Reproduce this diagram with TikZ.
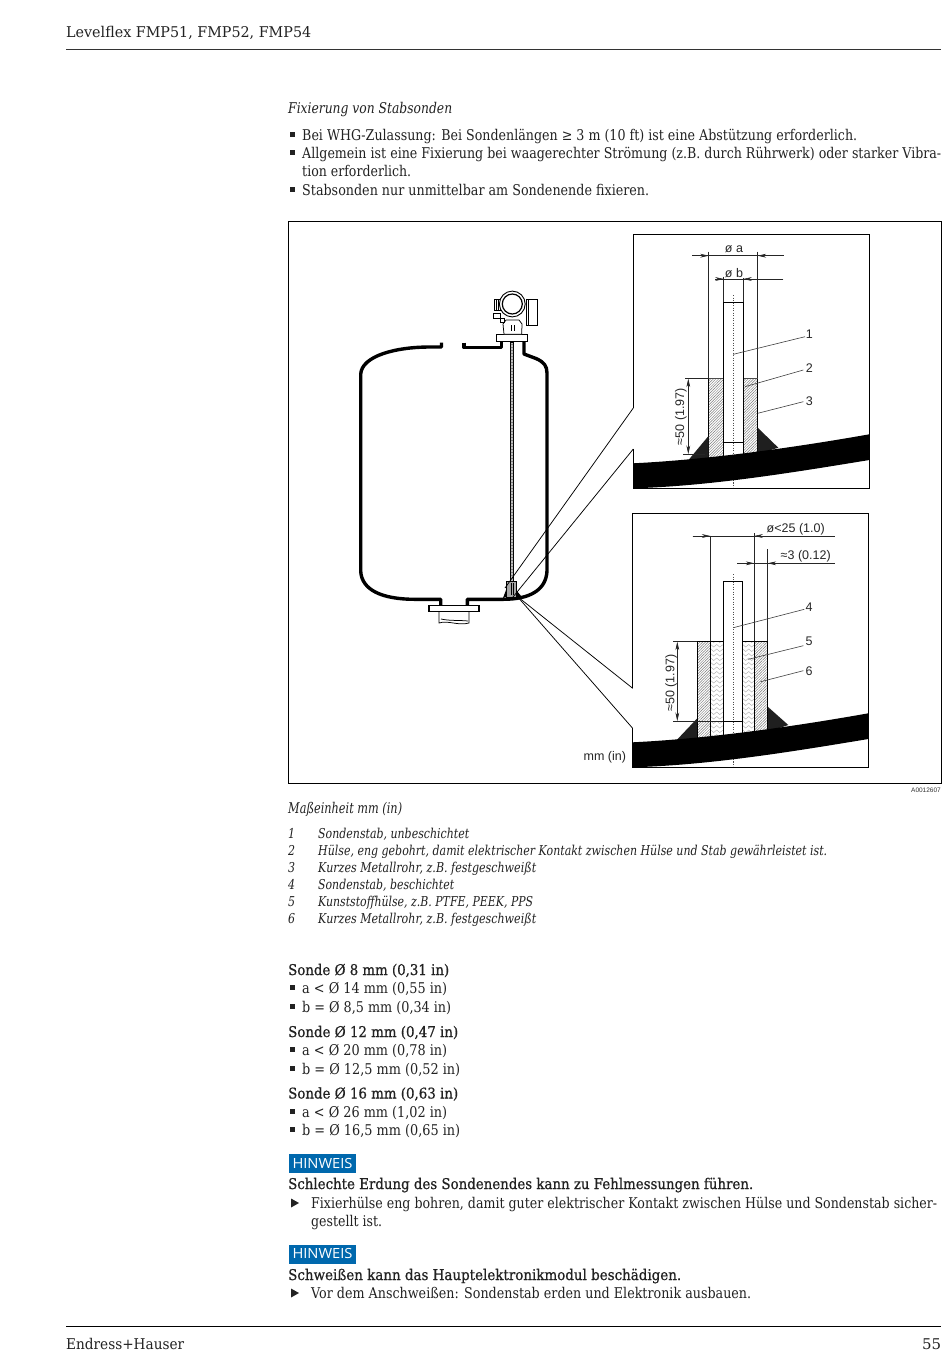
\documentclass[tikz,border=0pt]{standalone}
\usepackage{fontspec}
\usepackage{graphicx}
\setmainfont{DejaVu Serif}
\setsansfont{Liberation Sans}
\newfontface\semib[FakeBold=0.7]{DejaVu Serif}
\newfontfamily\hinwfont{Open Sans}
\usetikzlibrary{arrows.meta,patterns.meta}
\newcommand\tl[5]{\node[inner sep=0pt,anchor=base west,text=txtc] (#1) at (#2,#3) {\resizebox{#4pt}{\height}{#5}};}
\newcommand\bl[1]{\fill[txtc] (290.3,#1-2.6) rectangle +(5,5);}
\newcommand\tr[1]{\fill[txtc] (291,#1-4.5) -- (299,#1) -- (291,#1+4.5) -- cycle;}
\definecolor{txtc}{HTML}{222222}
\definecolor{hinw}{HTML}{0068AD}
\definecolor{hgray}{HTML}{777777}
\begin{document}
\begin{tikzpicture}[x=1pt,y=-1pt,
  thin line/.style={draw=black,line width=.75pt},
  lead/.style={draw=black!75,line width=.6pt},
  dim/.style={draw=black!85,line width=.55pt},
  dimtip/.style={dim,-{Stealth[length=8.5pt,width=3.8pt]}},
  dash center/.style={draw=black!70,line width=.5pt,dotted},
  hatched/.style={pattern={Lines[angle=45,distance=1.9pt,line width=.45pt]},pattern color=hgray},
  labeltxt/.style={font=\sffamily\fontsize{12.5}{14}\selectfont,text=black!85,inner sep=0pt},
  tank/.style={draw=black,line width=3.4pt,line join=round},
  frame/.style={draw=black,line width=1.1pt},
]
\useasboundingbox (0,0) rectangle (950,1369);
\fill[white] (0,0) rectangle (950,1369);

% ---- page text
\begin{scope}[every node/.append style={font=\fontsize{14.8}{16}\selectfont}]
\tl{head}{66}{37}{245}{Levelflex FMP51, FMP52, FMP54}
\tl{fix}{288}{113}{164}{\itshape Fixierung von Stabsonden}
\tl{b1}{302}{140}{555}{Bei WHG-Zulassung: Bei Sondenlängen ≥ 3 m (10 ft) ist eine Abstützung erforderlich.}
\tl{b2}{302}{158}{639}{Allgemein ist eine Fixierung bei waagerechter Strömung (z.B. durch Rührwerk) oder starker Vibra-}
\tl{b2b}{302}{176}{109}{tion erforderlich.}
\tl{b3}{302}{195}{347}{Stabsonden nur unmittelbar am Sondenende fixieren.}
\tl{unit}{288}{813}{114}{\itshape Maßeinheit mm (in)}
\end{scope}
\begin{scope}[every node/.append style={font=\itshape\fontsize{13.6}{15}\selectfont}]
\tl{n1}{288}{838.5}{7}{1}\tl{t1}{318}{838.5}{151}{Sondenstab, unbeschichtet}
\tl{n2}{288}{855.5}{7}{2}\tl{t2}{318}{855.5}{509}{Hülse, eng gebohrt, damit elektrischer Kontakt zwischen Hülse und Stab gewährleistet ist.}
\tl{n3}{288}{872.5}{7}{3}\tl{t3}{318}{872.5}{218}{Kurzes Metallrohr, z.B. festgeschweißt}
\tl{n4}{288}{889.5}{7}{4}\tl{t4}{318}{889.5}{136}{Sondenstab, beschichtet}
\tl{n5}{288}{906.5}{7}{5}\tl{t5}{318}{906.5}{215}{Kunststoffhülse, z.B. PTFE, PEEK, PPS}
\tl{n6}{288}{923.5}{7}{6}\tl{t6}{318}{923.5}{218}{Kurzes Metallrohr, z.B. festgeschweißt}
\end{scope}
\begin{scope}[every node/.append style={font=\fontsize{14.8}{16}\selectfont}]
\tl{s1}{288}{975}{161}{\semib Sonde Ø 8 mm (0,31 in)}
\tl{s1a}{302}{993}{145}{a < Ø 14 mm (0,55 in)}
\tl{s1b}{302}{1012}{149}{b = Ø 8,5 mm (0,34 in)}
\tl{s2}{288}{1037}{170}{\semib Sonde Ø 12 mm (0,47 in)}
\tl{s2a}{302}{1055}{145}{a < Ø 20 mm (0,78 in)}
\tl{s2b}{302}{1074}{158}{b = Ø 12,5 mm (0,52 in)}
\tl{s3}{288}{1098.5}{170}{\semib Sonde Ø 16 mm (0,63 in)}
\tl{s3a}{302}{1117}{145}{a < Ø 26 mm (1,02 in)}
\tl{s3b}{302}{1135}{158}{b = Ø 16,5 mm (0,65 in)}
\tl{w1}{288}{1189}{465}{\semib Schlechte Erdung des Sondenendes kann zu Fehlmessungen führen.}
\tl{w1a}{311}{1208}{626}{Fixierhülse eng bohren, damit guter elektrischer Kontakt zwischen Hülse und Sondenstab sicher-}
\tl{w1b}{311}{1226}{71}{gestellt ist.}
\tl{w2}{288}{1280}{393}{\semib Schweißen kann das Hauptelektronikmodul beschädigen.}
\tl{w2a}{311}{1298}{440}{Vor dem Anschweißen: Sondenstab erden und Elektronik ausbauen.}
\tl{foot}{66}{1349}{118}{Endress+Hauser}
\tl{pg}{922}{1349}{19}{55}
\end{scope}
\foreach \y in {135,153,190,988,1007,1050,1069,1112,1130}{\bl{\y}}
\tr{1203}\tr{1293}
\draw[draw=black!80,line width=.7pt] (66,49) -- (941,49);
\draw[draw=black,line width=.9pt] (66,1326) -- (941,1326);
\fill[hinw] (289,1154) rectangle (356,1173);
\fill[hinw] (289,1244.5) rectangle (356,1263.5);
\node[font=\hinwfont\fontsize{14}{16}\selectfont,text=white,inner sep=0pt] (h1) at (322.5,1163) {\resizebox{60pt}{\height}{HINWEIS}};
\node[font=\hinwfont\fontsize{14}{16}\selectfont,text=white,inner sep=0pt] (h2) at (322.5,1253.5) {\resizebox{60pt}{\height}{HINWEIS}};

% ---- outer frame
\draw[draw=black,line width=.75pt] (288,221) rectangle (941,783);
\node[labeltxt,anchor=base west] (mm) at (583.5,760) {mm (in)};
\node[font=\sffamily\fontsize{6.5}{8}\selectfont,text=black!80,inner sep=0pt,anchor=base east] (code) at (941,792) {A0012607};

% ---- tank
\draw[tank] (441.5,342.5) -- (441.5,347) -- (430,347) .. controls (395,347) and (362,356) .. (360.7,374) -- (360.7,571) .. controls (361.5,590) and (382,599.3) .. (415,599.3) -- (440.7,599.3) -- (440.7,606);
\draw[tank] (464,342.5) -- (464,347.5) -- (501.7,347.5) -- (501.7,341);
\draw[tank] (524,341) -- (524,354) -- (536,358.5) .. controls (544,362) and (547,366) .. (547,373) -- (547,571) .. controls (546,590) and (530,599.3) .. (503,599.3) -- (467.3,599.3) -- (467.3,606);
% lower flange and pipe
\draw[thin line] (439,612) -- (439,623) .. controls (448,620) and (458,626) .. (469,623) -- (469,612);
\draw[thin line] (441,619) .. controls (450,621) and (458,620) .. (468,621);
\draw[draw=black,line width=1.1pt,fill=white] (429,605.3) rectangle (479,611.7);
% rod
\draw[draw=black,line width=.5pt,fill=black!25] (510.6,342) rectangle (513.4,584);
\foreach \y in {344,347,...,582}{\draw[black!70,line width=.4pt] (510.6,\y) -- (513.4,\y+1);}
% small sleeve at the rod end
\fill[black] (503,598) -- (506,590) -- (506,597) -- cycle;
\fill[black] (516,590) -- (522,597) -- (516,597) -- cycle;
\draw[draw=black,line width=.5pt,fill=black!35] (506,581.7) rectangle (516.7,597);
\draw[black,line width=.6pt] (511,583) -- (511,595) (513.5,583) -- (513.5,595);
% device head
\draw[draw=black,line width=1pt,fill=white] (496.7,334.3) rectangle (527.3,341.7);
\draw[thin line,fill=white] (504,334.3) -- (503,324) -- (506,320) -- (519,320) -- (522,324) -- (521.7,334.3) -- cycle;
\draw[thin line] (511,325) -- (511,331) (514,325) -- (514,331);
\draw[thin line,fill=white] (526,299) rectangle (537.3,325.7);
\draw[thin line] (528.5,299) -- (528.5,325.7);
\draw[thin line,fill=white] (494.3,299.5) rectangle (500,310);
\draw[thin line] (496,299.5) -- (496,310) (498,299.5) -- (498,310);
\draw[thin line,fill=white] (493.3,313.3) rectangle (500,318);
\draw[thin line,fill=white] (500,318) rectangle (504,322);
\draw[draw=black,line width=.9pt,fill=white] (512.3,304) circle (12.9);
\draw[draw=black,line width=1.2pt,fill=white] (512.3,304) circle (10);

% ---- upper detail
\draw[frame] (633.3,408) -- (633.3,234.3) -- (869.3,234.3) -- (869.3,488.3) -- (633.3,488.3) -- (633.3,449);
\coordinate (tipa) at (505,588);
\coordinate (tipb) at (513,597);
\coordinate (fa) at (633.3,408);
\coordinate (fb) at (633.3,449);
\draw[thin line] (fa) -- (tipa);
\draw[thin line] (fb) -- (tipb);
% sleeve
\fill[hatched] (708.7,378.7) rectangle (723.7,458);
\fill[hatched] (743.3,378.7) rectangle (757.7,455);
\draw[dim] (708.7,251.7) -- (708.7,378.7) (757.7,251.7) -- (757.7,378.7);
\draw[thin line] (708.7,378.7) -- (708.7,458) (757.7,378.7) -- (757.7,452);
\draw[draw=black!70,line width=1pt] (708.7,378.7) -- (757.7,378.7);
% welds
\fill[black!88] (688.5,460) -- (708.7,435.7) -- (708.7,460) -- cycle;
\fill[black!88] (757.7,427.7) -- (778.3,447.7) -- (757.7,454) -- cycle;
% rod
\draw[draw=black,line width=.9pt,fill=white] (723.7,302.3) rectangle (743.3,458);
\draw[draw=black,line width=.8pt] (723.7,442.3) -- (743.3,442.3);
\draw[dim] (723.7,276.7) -- (723.7,302.3) (743.3,276.7) -- (743.3,302.3);
\draw[dash center] (733.3,295) -- (733.3,487);
% plate
\fill[black] (633.3,463.3) .. controls (700,460) and (780,450) .. (869.3,434.3) -- (869.3,460) .. controls (790,473) and (710,486) .. (633.3,488.3) -- cycle;
\draw[dash center] (733.3,482) -- (733.3,487);
\draw[frame] (633.3,463) -- (633.3,488.3) -- (869.3,488.3) -- (869.3,434);
% dimensions
\coordinate (a1) at (692,255.7); \coordinate (a2) at (783.7,255.7);
\coordinate (b1) at (715,279); \coordinate (b2) at (783.3,279);
\draw[dim] (a1) -- (a2) (b1) -- (b2);
\draw[dimtip] (a1) -- (708.7,255.7);
\draw[dimtip] (a2) -- (757.7,255.7);
\draw[dimtip] (715,279) -- (723.7,279);
\draw[dimtip] (b2) -- (743.3,279);
\node[labeltxt] (da) at (734,249.5) {ø a};
\node[labeltxt,fill=white,inner xsep=1pt] (db) at (734,273) {ø b};
\draw[dim] (685,378.7) -- (708.7,378.7) (683.3,454) -- (705,454);
\draw[dim,{Stealth[length=8.5pt,width=3.8pt]}-{Stealth[length=8.5pt,width=3.8pt]}] (688.3,378.7) -- (688.3,454);
\node[labeltxt,rotate=90] (d50a) at (681,416.7) {≈50 (1.97)};
% leaders
\node[labeltxt] (l1) at (809.3,334) {1};
\node[labeltxt] (l2) at (809.3,368) {2};
\node[labeltxt] (l3) at (809.3,401) {3};
\coordinate (p1) at (733.3,354.3);
\coordinate (p2) at (745,386.7);
\coordinate (p3) at (757.7,413.3);
\draw[lead] (p1) -- (805,336.7);
\draw[lead] (p2) -- (803.3,370);
\draw[lead] (p3) -- (803.3,401.7);

% ---- lower detail
\draw[frame] (632.7,688.3) -- (632.7,513.3) -- (868.3,513.3) -- (868.3,767.3) -- (632.7,767.3) -- (632.7,728.3);
\coordinate (tipc) at (518,597);
\coordinate (tipd) at (516,595);
\coordinate (fc) at (632.7,688.3);
\coordinate (fd) at (632.7,728.3);
\draw[thin line] (fc) -- (tipc);
\draw[thin line] (fd) -- (tipd);
% metal tube
\fill[hatched] (697.3,641.7) rectangle (710.7,741);
\fill[hatched] (754.7,641.7) rectangle (767.7,736);
% plastic sleeve
\begin{scope}
\clip (710.7,641.7) rectangle (723.3,741) (742.7,641.7) rectangle (754.7,741);
\foreach \y in {640,644.5,...,742}{
  \draw[black!30,line width=.45pt] (710.7,\y) -- ++(3,2.5) -- ++(3,-2.5) -- ++(3,2.5) -- ++(3.6,-2.5);
  \draw[black!30,line width=.45pt] (742.7,\y) -- ++(3,2.5) -- ++(3,-2.5) -- ++(3,2.5) -- ++(3,-2.5);
}
\end{scope}
% welds
\fill[black!88] (676.7,740) -- (697.3,718.3) -- (697.3,740) -- cycle;
\fill[black!88] (767.7,706.7) -- (788.3,725) -- (767.7,732) -- cycle;
% outlines
\draw[thin line] (697.3,641.7) -- (697.3,740);
\draw[dim] (710.3,536) -- (710.3,641.7) (754.3,533.3) -- (754.3,641.7);
\draw[draw=black,line width=.9pt] (710.3,641.7) -- (710.3,740) (754.3,641.7) -- (754.3,736);
\draw[dim] (767.7,549) -- (767.7,641.7);
\draw[thin line] (767.7,641.7) -- (767.7,733);
\draw[draw=black,line width=1pt] (697.3,641.7) -- (723.3,641.7) (742.7,641.7) -- (767.7,641.7);
\draw[dim] (697.3,721.7) -- (723.3,721.7);
\draw[draw=black,line width=.9pt,fill=white] (723.3,581.7) rectangle (742.7,740);
\draw[draw=black,line width=.8pt] (723.3,721) -- (742.7,721);
\draw[dash center] (733.3,574) -- (733.3,766);
% plate
\fill[black] (632.7,742.3) .. controls (700,739) and (780,729) .. (868.3,713.3) -- (868.3,739) .. controls (790,752) and (710,765) .. (632.7,767.3) -- cycle;
\draw[frame] (632.7,742) -- (632.7,767.3) -- (868.3,767.3) -- (868.3,713);
\draw[dash center] (733.3,761) -- (733.3,766);
% dimensions
\coordinate (c1) at (692.7,536); \coordinate (c2) at (835,536);
\coordinate (e1) at (737.3,563.3); \coordinate (e2) at (835,563.3);
\draw[dim] (c1) -- (c2) (e1) -- (e2);
\draw[dimtip] (c1) -- (710.3,536);
\draw[dimtip] (772,536) -- (754.3,536);
\draw[dimtip] (737.3,563.3) -- (754.3,563.3);
\draw[dimtip] (785,563.3) -- (767.7,563.3);
\node[labeltxt] (dc) at (795.7,529.5) {ø<25 (1.0)};
\node[labeltxt] (de) at (805.7,556.3) {≈3 (0.12)};
\draw[dim] (673.3,641.7) -- (697.3,641.7) (673.3,721) -- (697.3,721);
\draw[dim,{Stealth[length=8.5pt,width=3.8pt]}-{Stealth[length=8.5pt,width=3.8pt]}] (677.3,641.7) -- (677.3,721);
\node[labeltxt,rotate=90] (d50b) at (671.2,683) {≈50 (1.97)};
% leaders
\node[labeltxt] (l4) at (809,607.5) {4};
\node[labeltxt] (l5) at (809,641.7) {5};
\node[labeltxt] (l6) at (809,671) {6};
\coordinate (p4) at (733.3,627.7);
\coordinate (p5) at (748.3,659.3);
\coordinate (p6) at (760.7,681.7);
\draw[lead] (p4) -- (804.3,609.3);
\draw[lead] (p5) -- (803.3,645.7);
\draw[lead] (p6) -- (803.3,670.7);
\end{tikzpicture}
\end{document}
